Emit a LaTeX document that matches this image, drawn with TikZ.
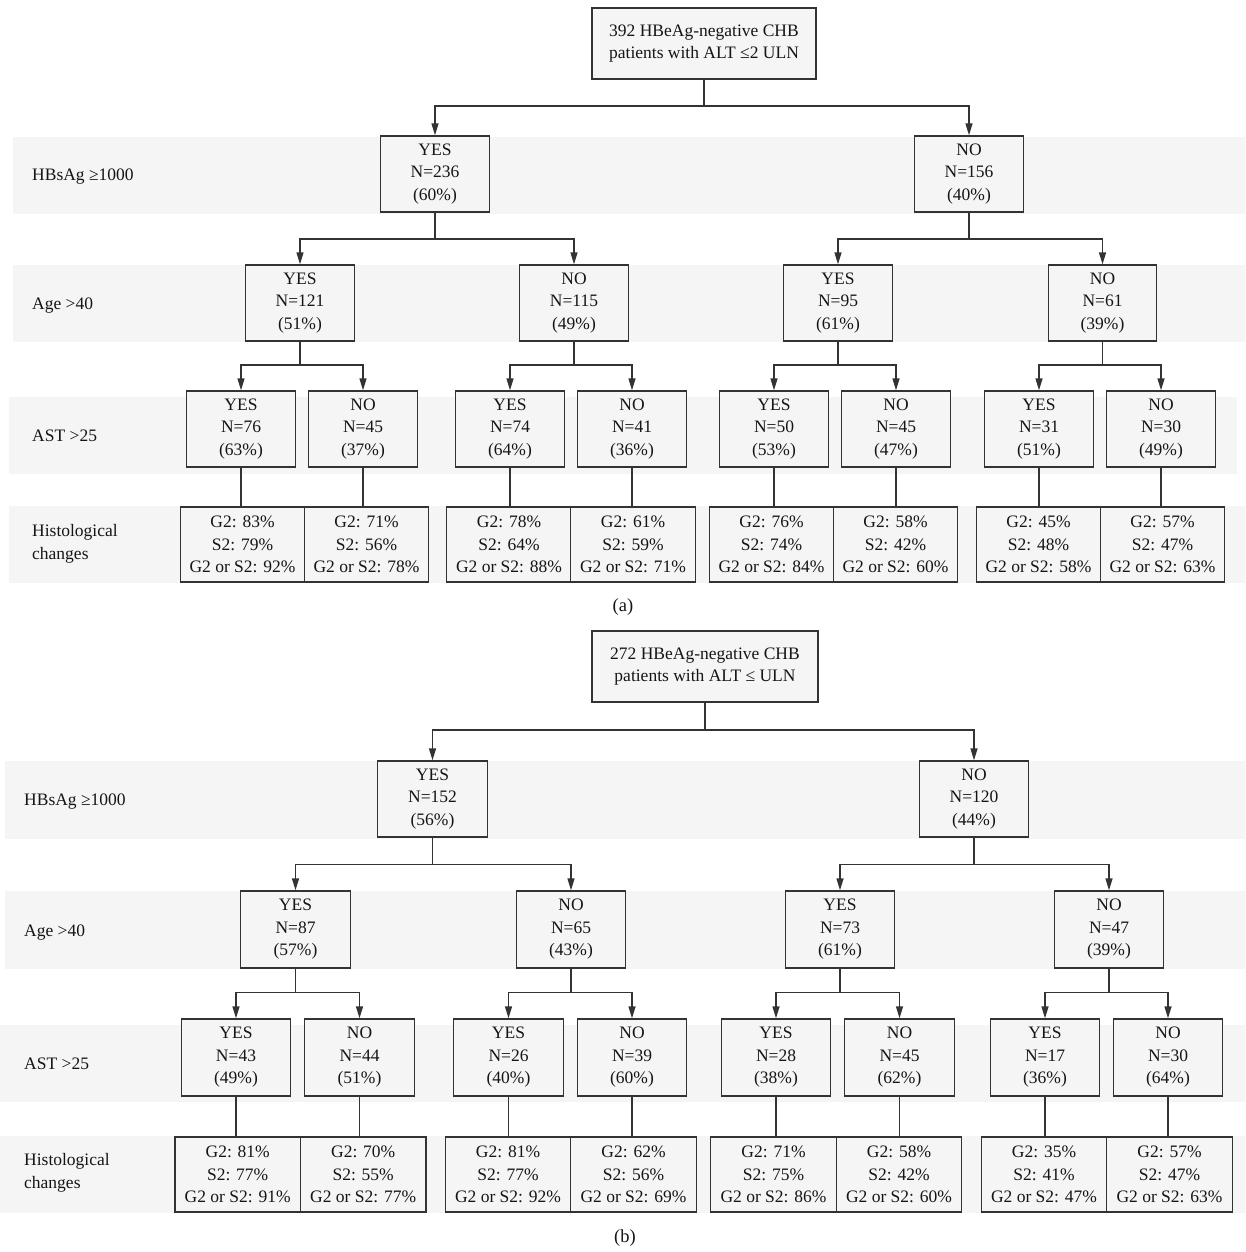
\documentclass[tikz,border=0pt]{standalone}
\usepackage{fontspec}
\setmainfont{Liberation Serif}
\usetikzlibrary{arrows.meta}
\definecolor{bg}{HTML}{F5F5F5}
\definecolor{lc}{HTML}{333333}
\definecolor{tc}{HTML}{151515}
\newcommand{\fs}{\fontsize{17.5}{22.5}\selectfont}
\tikzset{
  bx/.style={draw=lc, fill=bg, line width=1.4pt, inner sep=0pt, align=center, font=\fs, text=tc},
  tb/.style={bx, minimum width=225, minimum height=71},
  b1/.style={bx, minimum width=108.5, minimum height=76},
  hb/.style={bx, minimum width=124.5, minimum height=75},
  band/.style={fill=bg, draw=none},
  lbl/.style={anchor=west, align=left, inner sep=0pt, font=\fs, text=tc},
  captxt/.style={inner sep=0pt, font=\fontsize{18.5}{22}\selectfont, text=tc},
  ln/.style={draw=lc, line width=1.4pt},
  arr/.style={ln, -{Triangle[length=12pt,width=7pt]}},
}
\begin{document}
\begin{tikzpicture}[x=1pt,y=-1pt]
\useasboundingbox (0,0) rectangle (1245,1252);
% ---------------- panel (a) ----------------
\fill[band] (13,137) rectangle (1245,214);
\fill[band] (13,265) rectangle (1245,342);
\fill[band] (9,397) rectangle (1237,474);
\fill[band] (9,506) rectangle (1245,583);

\node[lbl] (la1) at (32,177) {HBsAg ≥1000};
\node[lbl] (la2) at (32,306) {Age >40};
\node[lbl] (la3) at (32,436) {AST >25};
\node[lbl] (la4) at (32,544) {Histological\\changes};

\node[tb, minimum width=224] (a0) at (704,43.5) {392 HBeAg-negative CHB\\patients with ALT ≤2 ULN};
\node[b1] (a1) at (435,174) {YES\\N=236\\(60\%)};
\node[b1] (a2) at (969,174) {NO\\N=156\\(40\%)};

\node[b1] (a11) at (300,303) {YES\\N=121\\(51\%)};
\node[b1] (a12) at (574,303) {NO\\N=115\\(49\%)};
\node[b1] (a21) at (838,303) {YES\\N=95\\(61\%)};
\node[b1] (a22) at (1102.5,303) {NO\\N=61\\(39\%)};

\node[b1] (a111) at (241,429) {YES\\N=76\\(63\%)};
\node[b1] (a112) at (363,429) {NO\\N=45\\(37\%)};
\node[b1] (a121) at (510,429) {YES\\N=74\\(64\%)};
\node[b1] (a122) at (632,429) {NO\\N=41\\(36\%)};
\node[b1] (a211) at (774,429) {YES\\N=50\\(53\%)};
\node[b1] (a212) at (896,429) {NO\\N=45\\(47\%)};
\node[b1] (a221) at (1039,429) {YES\\N=31\\(51\%)};
\node[b1] (a222) at (1161,429) {NO\\N=30\\(49\%)};

\node[hb] (ah1) at (242.5,544.5) {G2: 83\%\\S2: 79\%\\G2 or S2: 92\%};
\node[hb] (ah2) at (366.5,544.5) {G2: 71\%\\S2: 56\%\\G2 or S2: 78\%};
\node[hb] (ah3) at (509,544.5) {G2: 78\%\\S2: 64\%\\G2 or S2: 88\%};
\node[hb] (ah4) at (633,544.5) {G2: 61\%\\S2: 59\%\\G2 or S2: 71\%};
\node[hb] (ah5) at (771.5,544.5) {G2: 76\%\\S2: 74\%\\G2 or S2: 84\%};
\node[hb] (ah6) at (895.5,544.5) {G2: 58\%\\S2: 42\%\\G2 or S2: 60\%};
\node[hb] (ah7) at (1038.5,544.5) {G2: 45\%\\S2: 48\%\\G2 or S2: 58\%};
\node[hb] (ah8) at (1162.5,544.5) {G2: 57\%\\S2: 47\%\\G2 or S2: 63\%};

\node[captxt] (capa) at (623,607) {(a)};

% connectors (a)
\coordinate (sa0) at (704,106);
\draw[ln] (a0.south) -- (sa0);
\draw[arr] (sa0) -| (a1.north);
\draw[arr] (sa0) -| (a2.north);
\coordinate (sa1) at (435,239);
\draw[ln] (a1.south) -- (sa1);
\draw[arr] (sa1) -| (a11.north);
\draw[arr] (sa1) -| (a12.north);
\coordinate (sa2) at (969,239);
\draw[ln] (a2.south) -- (sa2);
\draw[arr] (sa2) -| (a21.north);
\draw[arr] (sa2) -| (a22.north);
\foreach \p/\c/\d in {a11/a111/a112, a12/a121/a122, a21/a211/a212, a22/a221/a222}{
  \coordinate (s\p) at (\p.south |- 0,365);
  \draw[ln] (\p.south) -- (s\p);
  \draw[arr] (s\p) -| (\c.north);
  \draw[arr] (s\p) -| (\d.north);
}
\foreach \s/\h in {a111/ah1, a112/ah2, a121/ah3, a122/ah4, a211/ah5, a212/ah6, a221/ah7, a222/ah8}{
  \draw[ln] (\s.south) -- (\s.south |- \h.north);
}

% ---------------- panel (b) ----------------
\fill[band] (5,761) rectangle (1245,839);
\fill[band] (5,891) rectangle (1245,969);
\fill[band] (0,1025) rectangle (1245,1102);
\fill[band] (0,1136) rectangle (1245,1213);

\node[lbl] (lb1) at (24,802) {HBsAg ≥1000};
\node[lbl] (lb2) at (24,933) {Age >40};
\node[lbl] (lb3) at (24,1064) {AST >25};
\node[lbl] (lb4) at (24,1173) {Histological\\changes};

\node[tb, minimum width=226] (b0) at (705,666.5) {272 HBeAg-negative CHB\\patients with ALT ≤ ULN};
\node[b1, minimum width=109.5] (b1) at (432.5,799) {YES\\N=152\\(56\%)};
\node[b1, minimum width=109.5] (b2) at (974,799) {NO\\N=120\\(44\%)};

\node[b1, minimum width=109.5, minimum height=77] (b11) at (295.5,929.5) {YES\\N=87\\(57\%)};
\node[b1, minimum width=109.5, minimum height=77] (b12) at (571,929.5) {NO\\N=65\\(43\%)};
\node[b1, minimum width=109.5, minimum height=77] (b21) at (840,929.5) {YES\\N=73\\(61\%)};
\node[b1, minimum width=109.5, minimum height=77] (b22) at (1109,929.5) {NO\\N=47\\(39\%)};

\node[b1, minimum width=109.5, minimum height=77] (b111) at (236,1057.5) {YES\\N=43\\(49\%)};
\node[b1, minimum width=109.5, minimum height=77] (b112) at (359.5,1057.5) {NO\\N=44\\(51\%)};
\node[b1, minimum width=109.5, minimum height=77] (b121) at (508.5,1057.5) {YES\\N=26\\(40\%)};
\node[b1, minimum width=109.5, minimum height=77] (b122) at (632,1057.5) {NO\\N=39\\(60\%)};
\node[b1, minimum width=109.5, minimum height=77] (b211) at (776,1057.5) {YES\\N=28\\(38\%)};
\node[b1, minimum width=109.5, minimum height=77] (b212) at (899.5,1057.5) {NO\\N=45\\(62\%)};
\node[b1, minimum width=109.5, minimum height=77] (b221) at (1045,1057.5) {YES\\N=17\\(36\%)};
\node[b1, minimum width=109.5, minimum height=77] (b222) at (1168,1057.5) {NO\\N=30\\(64\%)};

\node[hb, minimum width=125.5] (bh1) at (237.7,1174.5) {G2: 81\%\\S2: 77\%\\G2 or S2: 91\%};
\node[hb, minimum width=125.5] (bh2) at (363.2,1174.5) {G2: 70\%\\S2: 55\%\\G2 or S2: 77\%};
\node[hb, minimum width=125.5] (bh3) at (508,1174.5) {G2: 81\%\\S2: 77\%\\G2 or S2: 92\%};
\node[hb, minimum width=125.5] (bh4) at (633.5,1174.5) {G2: 62\%\\S2: 56\%\\G2 or S2: 69\%};
\node[hb, minimum width=125.5] (bh5) at (773.5,1174.5) {G2: 71\%\\S2: 75\%\\G2 or S2: 86\%};
\node[hb, minimum width=125.5] (bh6) at (899,1174.5) {G2: 58\%\\S2: 42\%\\G2 or S2: 60\%};
\node[hb, minimum width=125.5] (bh7) at (1044,1174.5) {G2: 35\%\\S2: 41\%\\G2 or S2: 47\%};
\node[hb, minimum width=125.5] (bh8) at (1169.5,1174.5) {G2: 57\%\\S2: 47\%\\G2 or S2: 63\%};

\node[captxt] (capb) at (625,1238) {(b)};

% connectors (b)
\coordinate (sb0) at (705,730);
\draw[ln] (b0.south) -- (sb0);
\draw[arr] (sb0) -| (b1.north);
\draw[arr] (sb0) -| (b2.north);
\coordinate (sb1) at (432.5,864.5);
\draw[ln] (b1.south) -- (sb1);
\draw[arr] (sb1) -| (b11.north);
\draw[arr] (sb1) -| (b12.north);
\coordinate (sb2) at (974,864.5);
\draw[ln] (b2.south) -- (sb2);
\draw[arr] (sb2) -| (b21.north);
\draw[arr] (sb2) -| (b22.north);
\foreach \p/\c/\d in {b11/b111/b112, b12/b121/b122, b21/b211/b212, b22/b221/b222}{
  \coordinate (s\p) at (\p.south |- 0,992.7);
  \draw[ln] (\p.south) -- (s\p);
  \draw[arr] (s\p) -| (\c.north);
  \draw[arr] (s\p) -| (\d.north);
}
\foreach \s/\h in {b111/bh1, b112/bh2, b121/bh3, b122/bh4, b211/bh5, b212/bh6, b221/bh7, b222/bh8}{
  \draw[ln] (\s.south) -- (\s.south |- \h.north);
}
\end{tikzpicture}
\end{document}
